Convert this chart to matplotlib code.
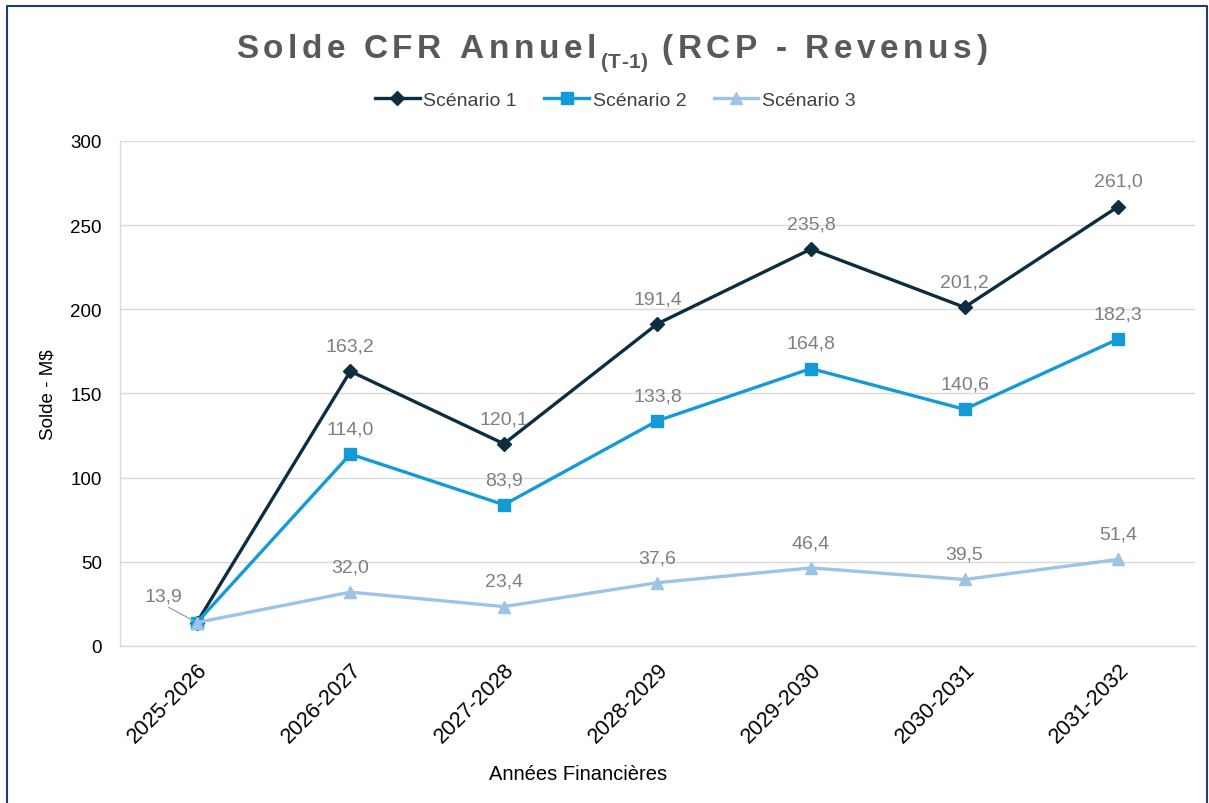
import numpy as np
import matplotlib
matplotlib.use("Agg")
import matplotlib.pyplot as plt
from matplotlib.font_manager import FontProperties

plt.rcParams['font.family'] = ['Liberation Sans', 'DejaVu Sans']

# data
annees = ['2025-2026', '2026-2027', '2027-2028', '2028-2029', '2029-2030', '2030-2031', '2031-2032']
scenario1 = [13.9, 163.2, 120.1, 191.4, 235.8, 201.2, 261.0]
scenario2 = [13.9, 114.0, 83.9, 133.8, 164.8, 140.6, 182.3]
scenario3 = [13.9, 32.0, 23.4, 37.6, 46.4, 39.5, 51.4]

c1 = '#0e2d40'
c2 = '#149bd7'
c3 = '#9dc3e6'
gris = '#7f7f7f'

fig = plt.figure(figsize=(12.09, 8.04), dpi=100)
ax = fig.add_axes([0.0993, 0.1953, 0.8890, 0.6281])

x = np.arange(len(annees))
ax.plot(x, scenario1, color=c1, lw=2.4, marker='D', ms=7, label='Scénario 1', zorder=3)
ax.plot(x, scenario2, color=c2, lw=2.4, marker='s', ms=8, label='Scénario 2', zorder=3)
ax.plot(x, scenario3, color=c3, lw=2.4, marker='^', ms=9, label='Scénario 3', zorder=3)

def fmt(v):
    return f'{v:.1f}'.replace('.', ',')

for serie in (scenario1, scenario2, scenario3):
    for i, v in enumerate(serie):
        if i == 0:
            continue
        ax.annotate(fmt(v), (i, v), xytext=(0, 12), textcoords='offset points',
                    ha='center', va='bottom', fontsize=14, color=gris)

# first point label with leader line
ax.annotate(fmt(scenario3[0]), (0, scenario3[0]), xytext=(-24, 13), textcoords='offset points',
            ha='center', va='bottom', fontsize=14, color=gris,
            arrowprops=dict(arrowstyle='-', color='#a6a6a6', lw=1, shrinkA=0, shrinkB=3,
                            relpos=(0.5, 0.0)))

ax.set_xlim(-0.5, 6.5)
ax.set_ylim(0, 300)
ax.set_yticks(range(0, 301, 50))
ax.set_xticks(x)
ax.set_xticklabels(annees, rotation=45, ha='right', rotation_mode='anchor', fontsize=15.5)
ax.tick_params(axis='y', labelsize=13.5, length=0, pad=13)
ax.tick_params(axis='x', length=0, pad=9)
ax.grid(axis='y', color='#d9d9d9', lw=1)
ax.set_axisbelow(True)
for s in ['top', 'right']:
    ax.spines[s].set_visible(False)
for s in ['left', 'bottom']:
    ax.spines[s].set_color('#d9d9d9')
    ax.spines[s].set_linewidth(1)

ax.set_ylabel('Solde - M$', fontsize=13.5, labelpad=10)
ax.set_xlabel('Années Financières', fontsize=14.5)
ax.xaxis.set_label_coords(0.426, -0.234)

fig.legend(loc='center', bbox_to_anchor=(0.509, 0.874), ncol=3, frameon=False,
           fontsize=14, handlelength=2.3, columnspacing=1.4, handletextpad=0.2,
           labelcolor='#404040')

# title with letter spacing
fig.canvas.draw()
renderer = fig.canvas.get_renderer()
fp_big = FontProperties(family='Liberation Sans', weight='bold', size=24)
fp_sub = FontProperties(family='Liberation Sans', weight='bold', size=15)
pieces = [('Solde CFR Annuel', fp_big, 0, 4.6), ('(T-1)', fp_sub, -10, 0.3),
          (' (RCP - Revenus)', fp_big, 0, 4.6)]

def char_w(ch, fp):
    if ch == ' ':
        w1, _, _ = renderer.get_text_width_height_descent('a a', fp, ismath=False)
        w2, _, _ = renderer.get_text_width_height_descent('aa', fp, ismath=False)
        return w1 - w2
    w, _, _ = renderer.get_text_width_height_descent(ch, fp, ismath=False)
    return w

total = 0
for txt, fp, dy, track in pieces:
    for ch in txt:
        total += char_w(ch, fp) + track
xpos = 614 - total / 2
ybase = 804 - 58
for txt, fp, dy, track in pieces:
    for ch in txt:
        fig.text(xpos / 1209, (ybase + dy) / 804, ch, fontproperties=fp, color='#595959',
                 ha='left', va='baseline')
        xpos += char_w(ch, fp) + track

# border
fig.add_artist(plt.Line2D([7 / 1209, 7 / 1209, 1207 / 1209, 1207 / 1209],
                          [0, 1 - 7 / 804, 1 - 7 / 804, 0],
                          color='#1f3c78', lw=1.5, transform=fig.transFigure))

fig.savefig('out.png', dpi=100)
